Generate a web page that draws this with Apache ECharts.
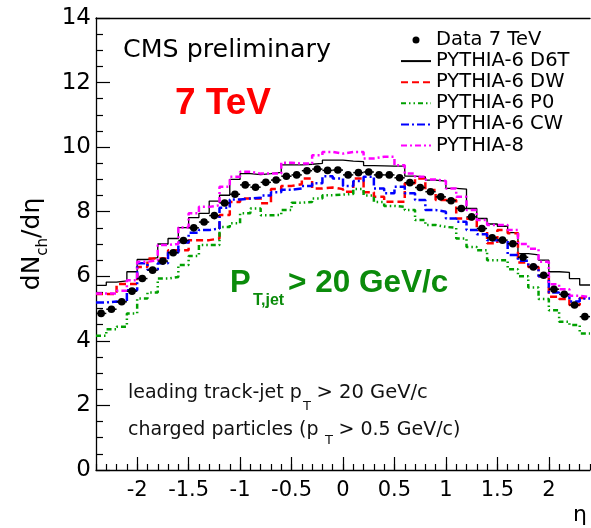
<!DOCTYPE html>
<html>
<head>
<meta charset="utf-8">
<script src="https://cdn.jsdelivr.net/npm/echarts@6/dist/echarts.min.js"></script>
<style>
  html, body { margin: 0; padding: 0; background: #fff; }
  #chart { width: 591px; height: 528px; }
</style>
</head>
<body>
<div id="chart"></div>
<script>
// Pseudorapidity bins (centres), bin width 0.1
const etaCenters = [
  -2.35, -2.25, -2.15, -2.05, -1.95, -1.85, -1.75, -1.65, -1.55, -1.45, -1.35, -1.25,
  -1.15, -1.05, -0.95, -0.85, -0.75, -0.65, -0.55, -0.45, -0.35, -0.25, -0.15, -0.05,
   0.05,  0.15,  0.25,  0.35,  0.45,  0.55,  0.65,  0.75,  0.85,  0.95,  1.05,  1.15,
   1.25,  1.35,  1.45,  1.55,  1.65,  1.75,  1.85,  1.95,  2.05,  2.15,  2.25,  2.35
];
const binHalfWidth = 0.05;

// dNch/deta per bin
const data7TeV = [
  4.85, 4.98, 5.21, 5.54, 5.93, 6.19, 6.47, 6.73, 7.11, 7.50, 7.68, 7.88,
  8.27, 8.54, 8.83, 8.76, 8.91, 8.98, 9.10, 9.14, 9.27, 9.32, 9.28, 9.29,
  9.14, 9.21, 9.23, 9.14, 9.14, 9.05, 8.90, 8.75, 8.62, 8.46, 8.34, 8.10,
  7.84, 7.48, 7.19, 7.12, 7.01, 6.59, 6.29, 6.03, 5.60, 5.44, 5.11, 4.75
];
const pythia6D6T = [
  5.72, 5.82, 5.86, 6.14, 6.52, 6.58, 7.00, 7.17, 7.51, 7.82, 7.95, 8.33,
  8.51, 9.00, 9.18, 9.15, 9.18, 9.22, 9.45, 9.45, 9.47, 9.50, 9.60, 9.60,
  9.57, 9.55, 9.43, 9.42, 9.41, 9.41, 9.10, 9.08, 8.98, 8.95, 8.72, 8.70,
  8.10, 7.79, 7.62, 7.55, 7.35, 6.70, 6.66, 6.50, 6.14, 6.12, 5.93, 5.73
];
const pythia6DW = [
  5.45, 5.45, 5.76, 5.76, 6.29, 6.55, 6.55, 6.81, 6.81, 7.12, 7.12, 7.17,
  7.90, 8.30, 8.41, 8.41, 8.26, 8.70, 8.80, 8.85, 9.03, 8.72, 8.75, 8.70,
  8.62, 9.03, 8.60, 8.46, 8.31, 8.31, 8.88, 9.03, 8.67, 8.36, 8.36, 7.79,
  7.74, 7.43, 7.02, 7.43, 7.33, 6.43, 6.29, 6.00, 5.37, 5.30, 5.11, 5.33
];
const pythia6P0 = [
  4.16, 4.36, 4.44, 4.85, 5.31, 5.50, 5.93, 5.98, 6.35, 6.63, 6.97, 6.97,
  7.53, 7.64, 7.95, 8.10, 7.89, 7.90, 8.05, 8.28, 8.30, 8.41, 8.51, 8.53,
  8.55, 8.70, 8.50, 8.30, 8.18, 8.15, 8.05, 7.74, 7.59, 7.53, 7.50, 7.17,
  6.91, 6.81, 6.50, 6.50, 6.22, 6.00, 5.65, 5.30, 4.95, 4.59, 4.49, 4.23
];
const pythia6CW = [
  5.19, 5.22, 5.20, 5.57, 6.40, 6.20, 6.40, 6.74, 7.05, 7.35, 7.43, 7.48,
  8.12, 8.38, 8.41, 8.43, 8.50, 8.60, 8.68, 8.72, 8.80, 8.88, 9.10, 9.03,
  8.80, 8.95, 9.08, 8.72, 8.57, 8.77, 8.57, 8.36, 8.05, 8.00, 7.79, 7.69,
  7.43, 7.30, 7.12, 7.10, 6.66, 6.48, 6.29, 6.00, 5.50, 5.42, 5.22, 5.31
];
const pythia8 = [
  5.47, 5.47, 5.55, 5.88, 6.45, 6.50, 6.97, 7.00, 7.51, 7.95, 8.15, 8.20,
  8.77, 9.08, 9.24, 9.18, 9.18, 9.18, 9.52, 9.49, 9.49, 9.75, 9.85, 9.80,
  9.85, 9.85, 9.65, 9.70, 9.70, 9.44, 9.18, 9.08, 9.00, 8.95, 8.72, 8.46,
  8.05, 7.74, 7.59, 7.59, 7.43, 7.00, 6.85, 6.45, 5.75, 5.60, 5.40, 5.35
];

// Axis tick labels
const etaLabels = [-2, -1.5, -1, -0.5, 0, 0.5, 1, 1.5, 2];
const dndetaLabels = [0, 2, 4, 6, 8, 10, 12, 14];

// Histogram outline: one point per lower bin edge plus the last upper edge
function histogram(values) {
  const pts = etaCenters.map((c, i) => [c - binHalfWidth, values[i]]);
  const last = etaCenters.length - 1;
  pts.push([etaCenters[last] + binHalfWidth, values[last]]);
  return pts;
}
const binEdges = etaCenters.map(c => c - binHalfWidth)
  .concat([etaCenters[etaCenters.length - 1] + binHalfWidth]);

function stepSeries(name, values, color, width, dash) {
  return {
    name: name,
    type: 'line',
    step: 'end',
    symbol: 'none',
    data: histogram(values),
    color: color,
    lineStyle: { color: color, width: width, type: dash },
    z: 2
  };
}

const FONT = 'DejaVu Sans';
const chart = echarts.init(document.getElementById('chart'), null, { renderer: 'canvas' });

chart.setOption({
  animation: false,
  backgroundColor: '#fff',
  grid: { left: 96, right: 1, top: 18, bottom: 58, containLabel: false, outerBoundsMode: 'none' },
  legend: {
    orient: 'vertical',
    left: 400,
    top: 30,
    padding: 0,
    itemWidth: 30,
    itemHeight: 7,
    itemGap: 1.1,
    selectedMode: false,
    // line entries show only the line pattern
    itemStyle: { opacity: 0 },
    textStyle: { fontFamily: FONT, fontSize: 19.5, color: '#000', lineHeight: 18 },
    data: [
      { name: 'Data 7 TeV', icon: 'circle', itemStyle: { opacity: 1, color: '#000' } },
      'PYTHIA-6 D6T', 'PYTHIA-6 DW', 'PYTHIA-6 P0', 'PYTHIA-6 CW', 'PYTHIA-8'
    ]
  },
  xAxis: [
    {
      type: 'value', min: -2.4, max: 2.4, position: 'bottom',
      axisLine: { show: true, onZero: false, lineStyle: { color: '#000', width: 1.3 } },
      axisTick: { show: true, inside: true, length: 13, customValues: etaLabels, lineStyle: { color: '#000', width: 1.2 } },
      axisLabel: {
        show: true, customValues: etaLabels, margin: 10,
        fontFamily: FONT, fontSize: 21, color: '#000',
        formatter: v => String(v)
      },
      splitLine: { show: false },
      name: 'η',
      nameLocation: 'end',
      nameGap: -3,
      nameTextStyle: { fontFamily: FONT, fontSize: 22, color: '#000', align: 'right', verticalAlign: 'top', padding: [34, 0, 0, 0] }
    },
    {
      type: 'value', min: -2.4, max: 2.4, position: 'bottom',
      axisLine: { show: false, onZero: false },
      axisTick: { show: true, inside: true, length: 6, customValues: binEdges, lineStyle: { color: '#000', width: 1.2 } },
      axisLabel: { show: false },
      splitLine: { show: false }
    },
    {
      type: 'value', min: -2.4, max: 2.4, position: 'top',
      axisLine: { show: true, onZero: false, lineStyle: { color: '#000', width: 1.3 } },
      axisTick: { show: false },
      axisLabel: { show: false },
      splitLine: { show: false }
    }
  ],
  yAxis: {
    type: 'value', min: 0, max: 14, interval: 2,
    axisLine: { show: true, onZero: false, lineStyle: { color: '#000', width: 1.3 } },
    axisTick: { show: true, inside: true, length: 14, lineStyle: { color: '#000', width: 1.2 } },
    minorTick: { show: true, splitNumber: 4, length: 7, lineStyle: { color: '#000', width: 1.2 } },
    axisLabel: {
      show: true, margin: 5, fontFamily: FONT, fontSize: 23, color: '#000',
      customValues: dndetaLabels
    },
    splitLine: { show: false },
    name: '{m|dN}{s|ch}{m|/dη}',
    nameLocation: 'middle',
    nameRotate: 90,
    nameGap: 29,
    nameTextStyle: {
      fontFamily: FONT, color: '#000',
      rich: {
        m: { fontFamily: FONT, fontSize: 25, color: '#000', lineHeight: 25 },
        s: { fontFamily: FONT, fontSize: 15, color: '#000', lineHeight: 15, padding: [21, 0, 0, 0] }
      }
    }
  },
  series: [
    stepSeries('PYTHIA-6 D6T', pythia6D6T, '#000000', 1.3, 'solid'),
    stepSeries('PYTHIA-6 DW', pythia6DW, '#ff0000', 2.5, [7, 4]),
    stepSeries('PYTHIA-6 P0', pythia6P0, '#00a000', 2.5, [5, 3, 1.5, 3, 1.5, 3]),
    stepSeries('PYTHIA-6 CW', pythia6CW, '#0000ff', 2.5, [8, 3, 2, 3]),
    stepSeries('PYTHIA-8', pythia8, '#ff00ff', 2.5, [6, 3, 2, 3]),
    {
      name: 'Data 7 TeV',
      type: 'custom',
      color: '#000',
      itemStyle: { color: '#000' },
      clip: false,
      z: 5,
      encode: { x: 0, y: 1 },
      data: etaCenters.map((c, i) => [c, data7TeV[i]]),
      renderItem: function (params, api) {
        const eta = api.value(0);
        const v = api.value(1);
        const lo = api.coord([eta - binHalfWidth, v]);
        const hi = api.coord([eta + binHalfWidth, v]);
        const mid = api.coord([eta, v]);
        return {
          type: 'group',
          children: [
            { type: 'line', shape: { x1: lo[0], y1: lo[1], x2: hi[0], y2: hi[1] }, style: { stroke: '#000', lineWidth: 1.5 } },
            { type: 'circle', shape: { cx: mid[0], cy: mid[1], r: 3.8 }, style: { fill: '#000' } }
          ]
        };
      }
    }
  ],
  graphic: [
    { type: 'text', x: 123, y: 51, scaleX: 1.055, style: { text: 'CMS preliminary', x: 0, y: 0, font: '24px "DejaVu Sans"', fill: '#000', verticalAlign: 'middle' } },
    { type: 'text', style: { text: '7 TeV', x: 175, y: 104, font: 'bold 37px "Liberation Sans"', fill: '#ff0000', verticalAlign: 'middle' } },
    { type: 'text', style: { text: 'P', x: 230, y: 283.7, font: 'bold 31px "Liberation Sans"', fill: '#0b8b0b', verticalAlign: 'middle' } },
    { type: 'text', style: { text: 'T,jet', x: 253, y: 300.4, font: 'bold 16px "Liberation Sans"', fill: '#0b8b0b', verticalAlign: 'middle' } },
    { type: 'text', style: { text: '> 20 GeV/c', x: 288, y: 283.7, font: 'bold 31.5px "Liberation Sans"', fill: '#0b8b0b', verticalAlign: 'middle' } },
    { type: 'text', style: { text: 'leading track-jet p', x: 128, y: 393.4, font: '19px "DejaVu Sans"', fill: '#111', verticalAlign: 'middle' } },
    { type: 'text', style: { text: 'T', x: 303, y: 406.6, font: '13px "DejaVu Sans"', fill: '#111', verticalAlign: 'middle' } },
    { type: 'text', style: { text: '> 20 GeV/c', x: 316.5, y: 393.4, font: '19.5px "DejaVu Sans"', fill: '#111', verticalAlign: 'middle' } },
    { type: 'text', style: { text: 'charged particles (p', x: 128, y: 430, font: '19px "DejaVu Sans"', fill: '#111', verticalAlign: 'middle' } },
    { type: 'text', style: { text: 'T', x: 325, y: 440.6, font: '13px "DejaVu Sans"', fill: '#111', verticalAlign: 'middle' } },
    { type: 'text', style: { text: '> 0.5 GeV/c)', x: 338.5, y: 430, font: '19px "DejaVu Sans"', fill: '#111', verticalAlign: 'middle' } }
  ]
});
</script>
</body>
</html>
